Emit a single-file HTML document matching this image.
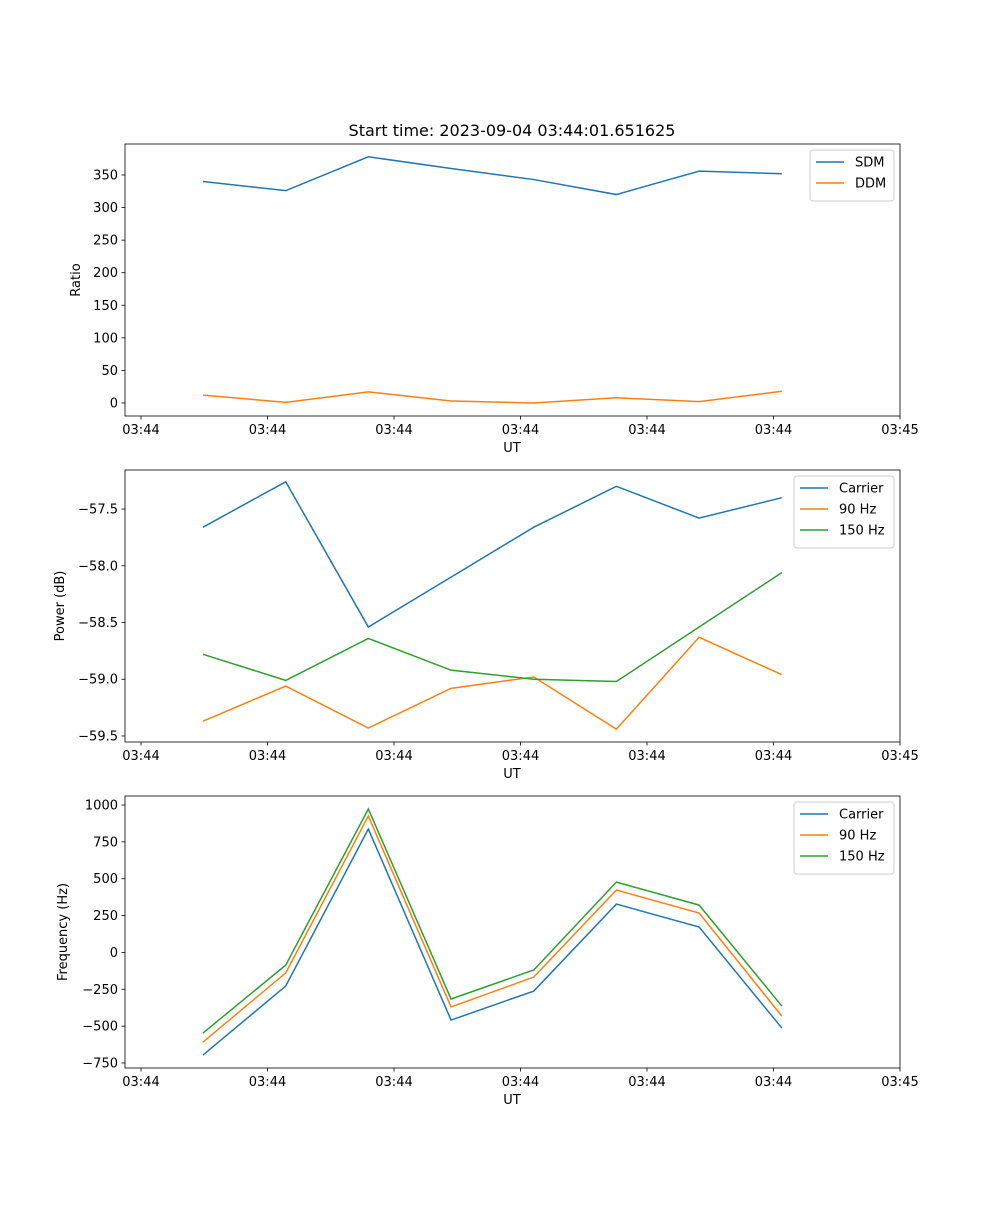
<!DOCTYPE html>
<html><head><meta charset="utf-8"><style>
body{margin:0;background:#fff}
svg text{font-family:"DejaVu Sans","Liberation Sans",sans-serif;fill:#000}
</style></head><body>
<svg id="fig" width="1000" height="1200" xmlns="http://www.w3.org/2000/svg"></svg>
<script>
const times=[0.49,1.144,1.797,2.451,3.105,3.758,4.412,5.066];
const xTickLabels=["03:44","03:44","03:44","03:44","03:44","03:44","03:45"];
const xTickVals=[0,1,2,3,4,5,6];
const sdm=[340,326,378,360,343,320,356,352];
const ddm=[12,1,17,3,0,8,2,18];
const pCarrier=[-57.66,-57.26,-58.54,-58.1,-57.66,-57.30,-57.58,-57.40];
const p90=[-59.37,-59.06,-59.43,-59.08,-58.98,-59.44,-58.63,-58.96];
const p150=[-58.78,-59.01,-58.64,-58.92,-59.00,-59.02,-58.54,-58.06];
const fCarrier=[-696,-228,837,-459,-262,328,172,-513];
const f90=[-608,-139,925,-370,-167,423,267,-432];
const f150=[-547,-86,973,-316,-119,477,321,-364];
const ticks1=[0,50,100,150,200,250,300,350];
const ticks2=[-59.5,-59.0,-58.5,-58.0,-57.5];
const ticks3=[-750,-500,-250,0,250,500,750,1000];

const NS="http://www.w3.org/2000/svg";
const svg=document.getElementById('fig');
function el(t,a,p){const e=document.createElementNS(NS,t);for(const k in a)e.setAttribute(k,a[k]);(p||svg).appendChild(e);return e;}
const L=125,R=900,xmin=-0.1265,xmax=6;
const xs=v=>L+(v-xmin)/(xmax-xmin)*(R-L);
const C=['#1f77b4','#ff7f0e','#2ca02c'];
function fmt(v,d){let s=v.toFixed(d);return s.replace('-','\u2212');}

function panel(name,top,bot,ymin,ymax,yt,dec,ylabel,series,labels,legW){
  const g=el('g',{});
  
  
  const ys=v=>bot-(v-ymin)/(ymax-ymin)*(bot-top);
  series.forEach((s,i)=>{
    const p=el('polyline',{points:s.map((v,j)=>xs(times[j])+','+ys(v)).join(' '),fill:'none',stroke:C[i],'stroke-width':1.5},g);
    
    
  });
  el('rect',{x:L,y:top,width:R-L,height:bot-top,fill:'none',stroke:'#000','stroke-width':0.8},g);
  yt.forEach(v=>{const y=ys(v);
    el('line',{x1:L-3.5,x2:L,y1:y,y2:y,stroke:'#000','stroke-width':0.8},g);
    const t=el('text',{x:L-7,y:y+4.5,'text-anchor':'end','font-size':13},g);t.textContent=fmt(v,dec);
    });
  xTickVals.forEach((v,i)=>{const x=xs(v);
    el('line',{x1:x,x2:x,y1:bot,y2:bot+3.5,stroke:'#000','stroke-width':0.8},g);
    const t=el('text',{x:x,y:bot+18,'text-anchor':'middle','font-size':13},g);t.textContent=xTickLabels[i];
    });
  const xl=el('text',{x:512,y:bot+36,'text-anchor':'middle','font-size':13},g);xl.textContent='UT';
  
  const yl=el('text',{x:0,y:0,'text-anchor':'middle','font-size':13,transform:`translate(${ylabel[1]},${(top+bot)/2}) rotate(-90)`},g);yl.textContent=ylabel[0];
  
  const lg=el('g',{},g);
  
  const lx=R-6-legW,ly=top+6,h=9+labels.length*21;
  el('rect',{x:lx,y:ly,width:legW,height:h,rx:3,fill:'#fff','fill-opacity':0.8,stroke:'#ccc'},lg);
  labels.forEach((lb,i)=>{const yy=ly+12+i*21;
    el('line',{x1:lx+6,x2:lx+34,y1:yy,y2:yy,stroke:C[i],'stroke-width':1.5},lg);
    const t=el('text',{x:lx+45,y:yy+4.5,'font-size':13},lg);t.textContent=lb;
    });
}
const ti=el('text',{x:512,y:136,'text-anchor':'middle','font-size':16},svg);
ti.textContent='Start time: 2023-09-04 03:44:01.651625';

panel('ratio-panel',144,416,-20,397.6,ticks1,0,['Ratio',80],[sdm,ddm],['SDM','DDM'],84);
panel('power-panel',470,742,-59.553,-57.156,ticks2,1,['Power (dB)',64],[pCarrier,p90,p150],['Carrier','90 Hz','150 Hz'],100);
panel('frequency-panel',796,1068,-784,1061,ticks3,0,['Frequency (Hz)',67],[fCarrier,f90,f150],['Carrier','90 Hz','150 Hz'],100);
</script>
</body></html>
